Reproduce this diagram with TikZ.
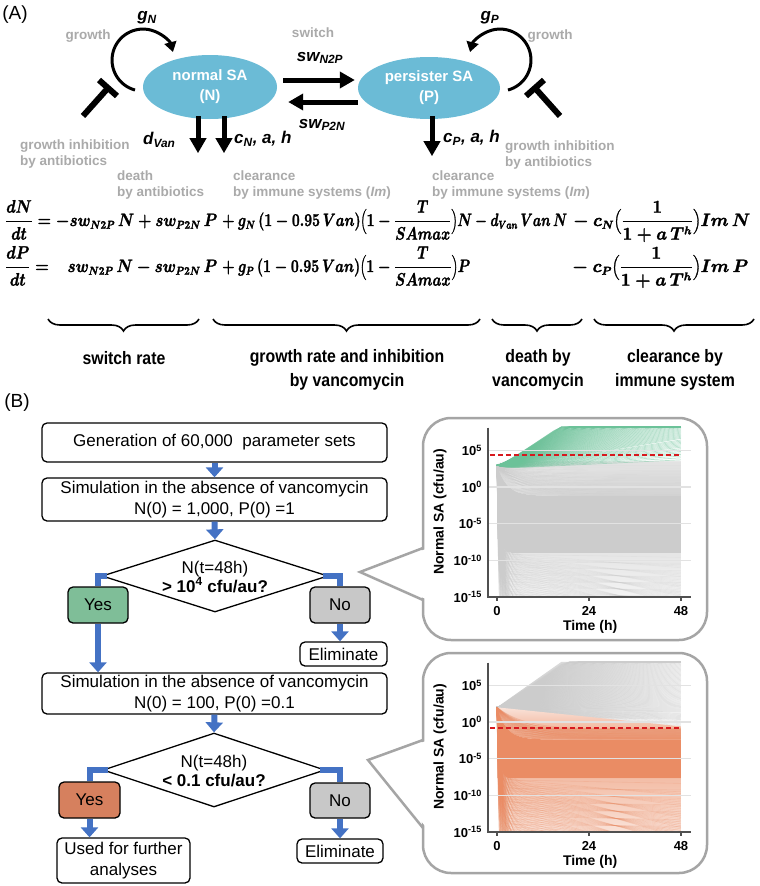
\documentclass[tikz,border=0pt]{standalone}
\usepackage[no-math]{fontspec}
\usepackage{graphicx}
\setmainfont{Liberation Sans}
\newfontfamily\narrowfont{Liberation Sans}[FakeStretch=0.88]
\usetikzlibrary{arrows.meta,shapes.geometric,decorations.pathreplacing,calc}
\definecolor{ellblue}{RGB}{107,187,214}
\definecolor{labgray}{RGB}{170,170,170}
\definecolor{flowblue}{RGB}{68,114,196}
\definecolor{yesgreen}{RGB}{127,190,152}
\definecolor{yesorange}{RGB}{214,128,94}
\definecolor{nogray}{RGB}{200,200,200}
\definecolor{linegray}{RGB}{204,204,204}
\definecolor{plotgreen}{RGB}{108,194,153}
\definecolor{plotorange}{RGB}{234,140,100}
\definecolor{dashred}{RGB}{215,25,30}
\definecolor{calloutgray}{RGB}{165,165,165}
\definecolor{axisgray}{RGB}{80,80,80}
\definecolor{gridgray}{RGB}{226,226,226}

\newcommand\fitw[2]{\resizebox{#1}{1.04\height}{\mathversion{bold}\special{pdf:literal direct 2 Tr 0.3 w}#2\special{pdf:literal direct 0 Tr}}}
\newcommand\plotframe[1]{%
  \foreach \Lv in {5,0,-5,-10}{\draw[gridl] (-2.35,\Lv) -- (50.6,\Lv);}
  \draw[axisl] (-2.35,8.1) -- (-2.35,-15) -- (50.6,-15);
  \foreach \tv in {0,24,48}{%
    \draw[axisl] (\tv,-15) -- (\tv,-15.6);
    \node[ticklab] (#1-x\tv) at (\tv,-16.9) {\tv};}
  \node[ticklab, anchor=east] (#1-y5) at (-3.9,5) {10\textsuperscript{5}};
  \node[ticklab, anchor=east] (#1-y0) at (-3.9,0) {10\textsuperscript{0}};
  \node[ticklab, anchor=east] (#1-ym5) at (-3.9,-5) {10\textsuperscript{-5}};
  \node[ticklab, anchor=east] (#1-ym10) at (-3.9,-10) {10\textsuperscript{-10}};
  \node[ticklab, anchor=east] (#1-ym15) at (-3.9,-15) {10\textsuperscript{-15}};
  \node[axlab, rotate=90] (#1-yl) at (-14.9,-3.4) {Normal SA (cfu/au)};
  \node[axlab] (#1-xl) at (24.3,-19.1) {Time (h)};
}
% #1 last index, #2 E from, #3 E to, #4 start, #5 tau min, #6 tau range, #7 slope max, #8 style
\newcommand\decaylines[8]{%
  \foreach \i in {0,...,#1}{%
    \pgfmathsetmacro\Ev{#2+(#3-#2)*\i/#1}%
    \pgfmathsetmacro\tauv{#5+#6*mod(\i*0.618034,1)}%
    \pgfmathsetmacro\sv{#7*mod(\i*0.381966+0.3,1)}%
    \draw[#8] plot[domain=0:1,samples=28] ({48*\x*\x},{\Ev+(#4-\Ev)*exp(max(-20,-48*\x*\x/\tauv))-\sv*48*\x*\x});
  }}
% #1 last index, #2 r from, #3 r to, #4 exponent, #5 start, #6 dip, #7 style
\newcommand\riselines[7]{%
  \foreach \i in {0,...,#1}{%
    \pgfmathsetmacro\rv{#2+(#3-#2)*((\i+0.5)/(#1+1))^#4}%
    \draw[#7] plot[domain=0:1,samples=28] ({48*\x*\x},{min(8.2,#5+\rv*48*\x*\x-#6*(1-exp(-24*\x*\x)))});
  }}

\begin{document}
\begin{tikzpicture}[x=1pt,y=-1pt,
  cell/.style={ellipse, fill=ellblue, text=white, font=\fontsize{15}{20}\selectfont\bfseries, align=center, inner sep=0},
  thickarrow/.style={line width=5pt, -{Triangle[width=16pt,length=15pt]}},
  looparrow/.style={line width=3pt, -{Triangle[width=12pt,length=10pt]}},
  inhib/.style={line width=6pt},
  glab/.style={text=labgray, font=\fontsize{13.5}{16}\selectfont\bfseries, align=left, inner sep=0},
  plab/.style={font=\fontsize{17}{20}\selectfont\bfseries\itshape, inner sep=0},
  eq/.style={font=\fontsize{16}{19}\selectfont\boldmath, inner sep=0},
  brlab/.style={font=\narrowfont\bfseries\fontsize{18}{24}\selectfont, align=center, inner sep=0},
  bracedec/.style={decorate, decoration={brace, mirror, amplitude=12pt}, line width=1.6pt},
  fbox/.style={draw, rounded corners=5pt, line width=1.3pt, font=\fontsize{17}{20.5}\selectfont, align=center, inner sep=0},
  dtext/.style={font=\fontsize{17}{18.5}\selectfont, align=center, inner sep=0},
  flow/.style={draw=flowblue, line width=6pt},
  flowarrow/.style={flow, -{Triangle[width=17pt,length=10pt]}},
  callout/.style={draw=calloutgray, line width=2.5pt, fill=white, rounded corners=28pt},
  calloutline/.style={draw=calloutgray, line width=2.5pt, line join=miter},
  gridl/.style={draw=gridgray, line width=1.2pt},
  axisl/.style={draw=axisgray, line width=1.3pt},
  ticklab/.style={font=\fontsize{13}{15}\selectfont\bfseries, inner sep=0},
  axlab/.style={font=\fontsize{14}{16}\selectfont\bfseries, inner sep=0},
  reddash/.style={draw=dashred, line width=2pt, dash pattern=on 5pt off 3pt},
  thinl/.style={line width=0.6pt, opacity=0.22}
]
\useasboundingbox (0,0) rectangle (760,886);
\fill[white] (0,0) rectangle (760,886);

% ---------------- (A) ----------------
\node[font=\fontsize{19}{22}\selectfont, inner sep=0] (lblA) at (15,15) {(A)};
\node[cell, minimum width=134pt, minimum height=64pt] (N) at (210,87) {normal SA\\(N)};
\node[cell, minimum width=142pt, minimum height=62pt] (P) at (429,88) {persister SA\\(P)};

\draw[thickarrow] ($(N.east)+(6,-7)$) -- ($(P.west)+(-3,-8)$);
\draw[thickarrow] ($(P.west)+(0,14)$) -- ($(N.east)+(11,15)$);
\draw[thickarrow] ($(N.south)+(-12,-3)$) -- ++(0,37);
\draw[thickarrow] ($(N.south)+(14,-3)$) -- ++(0,37);
\draw[thickarrow] ($(P.south)+(3,-3)$) -- ++(0,40);

\draw[looparrow] (135,90) arc[start angle=105, end angle=345, radius=31];
\draw[looparrow] (508,90) arc[start angle=75, end angle=-165, radius=31];
\draw[inhib] (83,116) -- (108,88);
\draw[inhib] (99,80) -- (117,96);
\draw[inhib] (560,116) -- (535,88);
\draw[inhib] (544,80) -- (526,96);

\node[plab] (gN) at (147,18) {g\textsubscript{N}};
\node[plab] (gP) at (490,18) {g\textsubscript{P}};
\node[plab] (swNP) at (320,58) {sw\textsubscript{N2P}};
\node[plab] (swPN) at (322,125) {sw\textsubscript{P2N}};
\node[plab, anchor=west] (dV) at (143,140) {d\textsubscript{Van}};
\node[plab, anchor=west] (cN) at (234,139) {c\textsubscript{N}, a, h};
\node[plab, anchor=west] (cP) at (443,138) {c\textsubscript{P}, a, h};

\node[glab] (grN) at (88,36) {growth};
\node[glab] (grP) at (550,36) {growth};
\node[glab] (swl) at (313,33) {switch};
\node[glab, anchor=west] (inhN) at (20,154) {growth inhibition\\by antibiotics};
\node[glab, anchor=west] (inhP) at (505,155) {growth inhibition\\by antibiotics};
\node[glab, anchor=west] (death) at (117,185) {death\\by antibiotics};
\node[glab, anchor=west] (clN) at (233,185) {clearance\\by immune systems (\textit{Im})};
\node[glab, anchor=west] (clP) at (432,185) {clearance\\by immune systems (\textit{Im})};

% equations
\node[eq, anchor=base west] (e1a) at (5,226) {\fitw{212pt}{$\displaystyle \frac{dN}{dt} = -sw_{N2P}\,N + sw_{P2N}\,P$}};
\node[eq, anchor=base west] (e1b) at (222,226) {\fitw{250pt}{$\displaystyle +\:g_N\,(1-0.95\,Van)\biggl(1-\frac{T}{SAmax}\biggr)N$}};
\node[eq, anchor=base west] (e1c) at (475,226) {\fitw{92pt}{$\displaystyle -\:d_{Van}\,Van\,N$}};
\node[eq, anchor=base west] (e1d) at (573,226) {\fitw{177pt}{$\displaystyle -\:c_N\biggl(\frac{1}{1+a\,T^h}\biggr)Im\,N$}};
\node[eq, anchor=base west] (e2a) at (5,272) {\fitw{212pt}{$\displaystyle \frac{dP}{dt} = \phantom{-}sw_{N2P}\,N - sw_{P2N}\,P$}};
\node[eq, anchor=base west] (e2b) at (222,272) {\fitw{248pt}{$\displaystyle +\:g_P\,(1-0.95\,Van)\biggl(1-\frac{T}{SAmax}\biggr)P$}};
\node[eq, anchor=base west] (e2d) at (572,272) {\fitw{176pt}{$\displaystyle -\:c_P\biggl(\frac{1}{1+a\,T^h}\biggr)Im\,P$}};

\draw[bracedec] (48,319) -- (199,319);
\draw[bracedec] (213,319) -- (480,319);
\draw[bracedec] (492,319) -- (582,319);
\draw[bracedec] (594,319) -- (754,319);
\node[brlab] (br1) at (124,358) {switch rate};
\node[brlab] (br2) at (347,370) {growth rate and inhibition\\by vancomycin};
\node[brlab] (br3) at (538,370) {death by\\vancomycin};
\node[brlab] (br4) at (675,370) {clearance by\\immune system};

% ---------------- (B) ----------------
\node[font=\fontsize{19}{22}\selectfont, inner sep=0] (lblB) at (17,403) {(B)};

\node[fbox, minimum width=345pt, minimum height=39pt] (b1) at (214.5,442.5) {Generation of 60,000\ \ parameter sets};
\node[fbox, minimum width=345pt, minimum height=43pt] (b2) at (214.5,499.5) {Simulation in the absence of vancomycin\\N(0) = 1,000, P(0) =1};
\node[diamond, draw, line width=1.3pt, aspect=3.14, minimum width=226pt, minimum height=72pt, inner sep=0] (d1) at (215,576) {};
\node[dtext] (d1t) at (215,577) {N(t=48h)\\\textbf{> 10\textsuperscript{4} cfu/au?}};
\node[fbox, fill=yesgreen, minimum width=60pt, minimum height=36pt] (y1) at (98,605) {Yes};
\node[fbox, fill=nogray, minimum width=60pt, minimum height=36pt] (n1) at (340,605) {No};
\node[fbox, minimum width=87pt, minimum height=24pt] (el1) at (343.5,654) {Eliminate};
\node[fbox, minimum width=345pt, minimum height=41pt] (b3) at (214.5,693.5) {Simulation in the absence of vancomycin\\N(0) = 100, P(0) =0.1};
\node[diamond, draw, line width=1.3pt, aspect=3, minimum width=222pt, minimum height=74pt, inner sep=0] (d2) at (214,770) {};
\node[dtext] (d2t) at (214,771) {N(t=48h)\\\textbf{< 0.1 cfu/au?}};
\node[fbox, fill=yesorange, minimum width=61pt, minimum height=36pt] (y2) at (89.5,800) {Yes};
\node[fbox, fill=nogray, minimum width=60pt, minimum height=35pt] (n2) at (340,800.5) {No};
\node[fbox, minimum width=133pt, minimum height=45pt] (used) at (123.5,860.5) {Used for further\\analyses};
\node[fbox, minimum width=86pt, minimum height=24pt] (el2) at (340,851) {Eliminate};

\draw[flowarrow] (b1.south) -- (b2.north);
\draw[flowarrow] (b2.south) -- (d1.north);
\draw[flow] ($(d1.west)+(6,0)$) -| (y1.north);
\draw[flowarrow] (y1.south) -- (y1.south |- b3.north);
\draw[flow] ($(d1.east)+(-6,0)$) -| (n1.north);
\draw[flowarrow] (n1.south) -- (n1.south |- el1.north);
\draw[flowarrow] (b3.south) -- (d2.north);
\draw[flow] ($(d2.west)+(6,0)$) -| (y2.north);
\draw[flowarrow] (y2.south) -- (y2.south |- used.north);
\draw[flow] ($(d2.east)+(-6,0)$) -| (n2.north);
\draw[flowarrow] (n2.south) -- (n2.south |- el2.north);

% ---------------- callout 1 ----------------
\draw[callout] (423,418) rectangle (707,640);
\fill[white] (426,549) -- (361,572) -- (426,599) -- cycle;
\draw[calloutline] (423,548) -- (360,572) -- (423,600);

\begin{scope}[shift={(497pt,-487pt)}, x=3.833pt, y=7.33pt]
  \begin{scope}
    \clip (-1,-15) rectangle (48.2,8.6);
    \shade[top color=linegray, middle color=linegray, bottom color=white]
      (0,3) -- plot[domain=0:1,samples=20] ({1.5*\x},{-21+24*exp(-1.5*\x/0.35)})
      -- (48,-20.7) -- (48,-9) -- plot[domain=1:0,samples=40] ({48*\x*\x},{-9+12*exp(max(-20,-48*\x*\x/0.6))}) -- cycle;
    \shade[top color=linegray!20, bottom color=linegray!75]
      (0,3) -- (48,3.6) -- (48,-1.2) -- plot[domain=1:0,samples=40] ({48*\x*\x},{-1.2+4.2*exp(-48*\x*\x/2.5)}) -- cycle;
    \decaylines{149}{-9}{-21}{3}{0.35}{1.6}{0.14}{linegray, thinl}
    \decaylines{109}{3.5}{-1.2}{3}{0.8}{7}{0}{linegray, thinl}
    \fill[linegray] plot[domain=0:1,samples=40] ({48*\x*\x},{-1.2+4.2*exp(-48*\x*\x/2.5)})
      -- plot[domain=1:0,samples=40] ({48*\x*\x},{-9+12*exp(max(-20,-48*\x*\x/0.6))}) -- cycle;
    \riselines{119}{0.021}{0.35}{0.8}{3}{0.5}{plotgreen, line width=0.7pt, opacity=0.45}
  \end{scope}
  \plotframe{p1}
  \draw[reddash] (-1.8,4.3) -- (47.8,4.3);
\end{scope}

% ---------------- callout 2 ----------------
\draw[callout] (423,653) rectangle (707,873);
\fill[white] (426,741) -- (369,760) -- (426,827) -- cycle;
\draw[calloutline] (423,740) -- (368,760) -- (423,828);

\begin{scope}[shift={(497pt,-722pt)}, x=3.833pt, y=7.33pt]
  \begin{scope}
    \clip (-1,-15) rectangle (48.2,8.6);
    \shade[left color=linegray, right color=linegray!20] (0,2) -- (16.8,8.2) -- (48,8.2) -- (48,0.3) -- (20,0.6) -- cycle;
    \riselines{119}{-0.052}{0.37}{1.1}{2}{0.3}{linegray, line width=0.7pt, opacity=0.4}
    \shade[top color=plotorange, middle color=plotorange, bottom color=white]
      (0,2) -- plot[domain=0:1,samples=20] ({1.5*\x},{-21+23*exp(-1.5*\x/0.35)})
      -- (48,-20.6) -- (48,-7.7) -- plot[domain=1:0,samples=40] ({48*\x*\x},{-7.7+9.7*exp(max(-20,-48*\x*\x/0.6))}) -- cycle;
    \shade[top color=plotorange!25, bottom color=plotorange!80]
      (0,2) -- (48,-0.6) -- (48,-2.4) -- plot[domain=1:0,samples=40] ({48*\x*\x},{-2.4+4.4*exp(-48*\x*\x/2.5)}) -- cycle;
    \decaylines{149}{-7.7}{-21}{2}{0.35}{1.6}{0.16}{plotorange, thinl}
    \decaylines{59}{-0.9}{-2.4}{2}{1}{7}{0}{plotorange, thinl}
    \fill[plotorange] plot[domain=0:1,samples=40] ({48*\x*\x},{-2.4+4.4*exp(-48*\x*\x/2.5)})
      -- plot[domain=1:0,samples=40] ({48*\x*\x},{-7.7+9.7*exp(max(-20,-48*\x*\x/0.6))}) -- cycle;
  \end{scope}
  \plotframe{p2}
  \draw[reddash] (-1.8,-0.8) -- (47.8,-0.8);
\end{scope}

\end{tikzpicture}
\end{document}
